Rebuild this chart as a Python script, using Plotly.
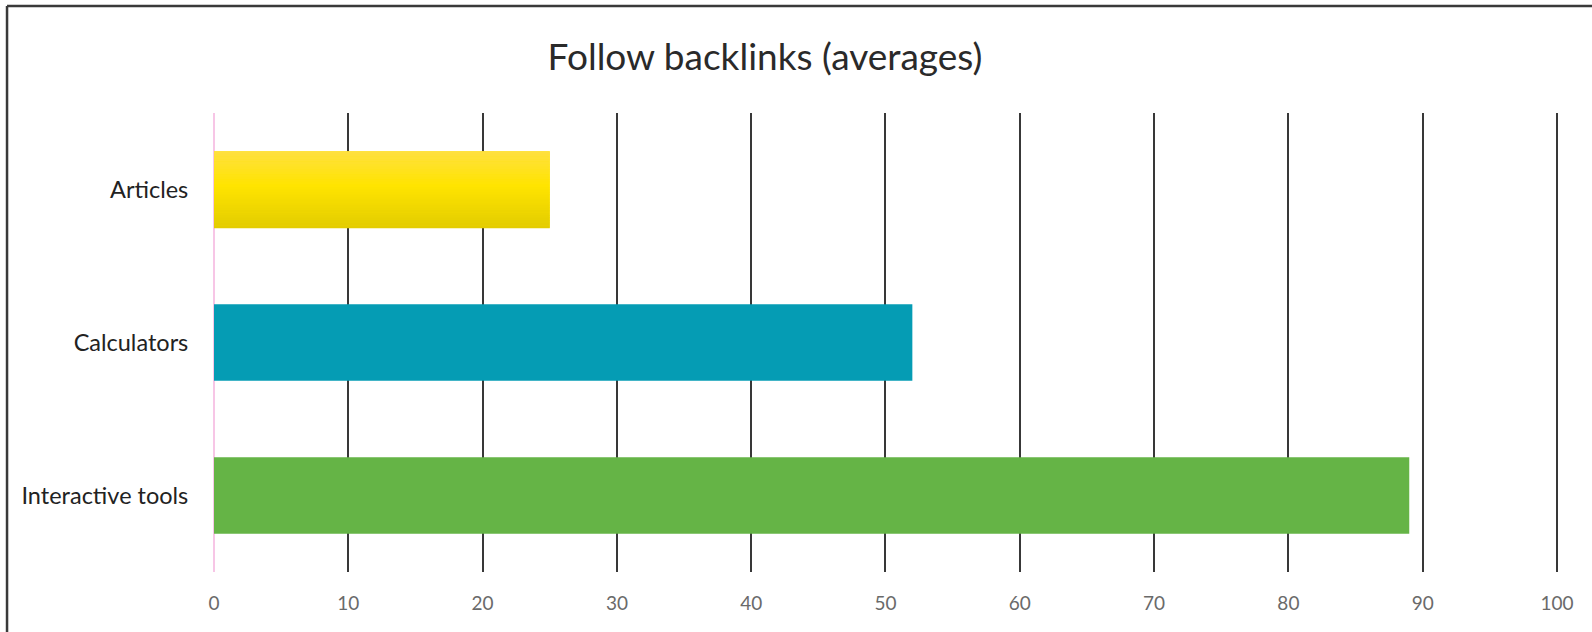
import plotly.graph_objects as go

# Average follow backlinks per content type
categories = ["Articles", "Calculators", "Interactive tools"]
values = [25, 52, 89]
bar_colors = ["#FFE300", "#059CB4", "#65B446"]
x_ticks = [0, 10, 20, 30, 40, 50, 60, 70, 80, 90, 100]

# vertical shading for the first bar (top -> middle -> bottom)
gradient_stops = [(0.0, (255, 224, 64)), (0.45, (255, 228, 0)), (1.0, (226, 204, 0))]

W, H = 1592, 632
X_MAX = 100.15                      # a touch past 100 so the last grid line shows
L, T, B = 213.5, 113.3, 60.3
PW = 13.432 * X_MAX
R = W - L - PW
PH = H - T - B
BAR_W = 0.5


def lerp_color(t):
    for (t0, c0), (t1, c1) in zip(gradient_stops, gradient_stops[1:]):
        if t <= t1:
            f = (t - t0) / (t1 - t0) if t1 > t0 else 0
            return "rgb(%d,%d,%d)" % tuple(round(a + (b - a) * f) for a, b in zip(c0, c1))
    return "rgb(%d,%d,%d)" % gradient_stops[-1][1]


fig = go.Figure()
fig.add_trace(go.Bar(
    y=categories, x=values, orientation="h",
    marker=dict(color=bar_colors, line=dict(width=0)),
    width=BAR_W, showlegend=False, hoverinfo="x+y",
))

n_slices = 30
sw = BAR_W / n_slices
for i in range(n_slices):
    fig.add_trace(go.Bar(
        y=[categories[0]], x=[values[0]], orientation="h",
        marker=dict(color=lerp_color((i + 0.5) / n_slices), line=dict(width=0)),
        width=[sw * 1.15], offset=[-BAR_W / 2 + i * sw],
        showlegend=False, hoverinfo="skip",
    ))

# frame lines on the top and left edges of the page
px = lambda x: (x - L) / PW
py = lambda y: (H - B - y) / PH
frame = dict(color="#3a3a3a", width=2.5)
shapes = [
    dict(type="line", xref="paper", yref="paper", x0=px(6.5), x1=px(W + 5), y0=py(6.5), y1=py(6.5), line=frame),
    dict(type="line", xref="paper", yref="paper", x0=px(6.5), x1=px(6.5), y0=py(6.5), y1=py(H + 5), line=frame),
]

fig.update_layout(
    width=W, height=H,
    margin=dict(l=L, r=R, t=T, b=B, pad=0),
    paper_bgcolor="white", plot_bgcolor="white",
    barmode="overlay", bargap=0.5,
    font=dict(family="Lato, Open Sans, sans-serif", color="#222"),
    title=dict(text="Follow backlinks (averages)", x=765 / W, xanchor="center",
               y=1 - 57 / H, yanchor="middle",
               font=dict(size=37, color="#2a2a2a", family="Lato, sans-serif")),
    xaxis=dict(range=[0, X_MAX], tickvals=x_ticks, showgrid=True, gridcolor="#383838", gridwidth=2,
               zeroline=True, zerolinecolor="#F7C6E6", zerolinewidth=2, showline=False,
               ticks="outside", ticklen=14.5, tickcolor="rgba(0,0,0,0)",
               tickfont=dict(size=19, color="#6a6a6a", family="Lato, sans-serif"), fixedrange=True),
    yaxis=dict(categoryorder="array", categoryarray=categories, autorange="reversed",
               showgrid=False, zeroline=False, showline=False,
               ticks="outside", ticklen=20, tickcolor="rgba(0,0,0,0)",
               tickfont=dict(size=23.5, color="#222", family="Lato, sans-serif"), fixedrange=True),
    shapes=shapes,
)

fig.write_html("out.html", config={"displayModeBar": False})
